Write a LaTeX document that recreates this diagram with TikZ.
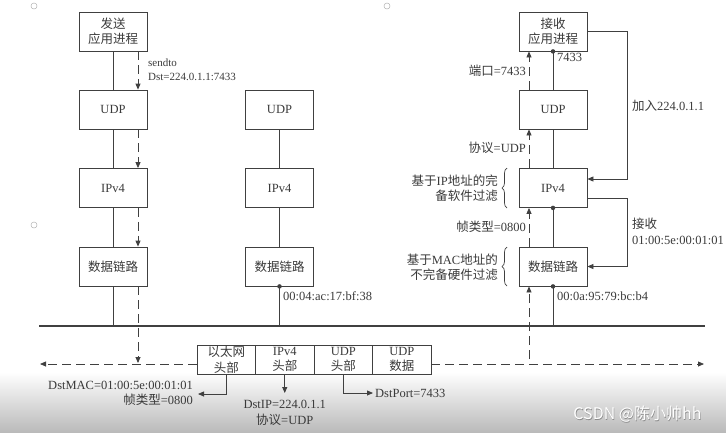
\documentclass[tikz,border=0pt]{standalone}
\usepackage{fontspec}
\setmainfont{Liberation Serif}
\newfontfamily\cjkfont{Noto Sans CJK SC}
\newfontfamily\wmfont{Noto Sans CJK SC}
\newcommand{\zhtxt}[1]{{\cjkfont #1}}
\usetikzlibrary{arrows.meta,decorations.pathreplacing,calc}
\definecolor{txt}{HTML}{3A3A3A}
\definecolor{ln}{HTML}{404040}
\begin{document}
\begin{tikzpicture}[x=1pt,y=-1pt,
  every node/.style={font=\fontsize{12.5}{15.5}\selectfont, text=txt},
  box/.style={draw=ln, line width=0.8pt, minimum width=68pt, minimum height=39pt, inner sep=0pt, align=center},
  cell/.style={draw=ln, line width=0.8pt, minimum width=58.5pt, minimum height=29pt, inner sep=0pt, align=center},
  link/.style={draw=ln, line width=0.8pt},
  flow/.style={draw=ln, line width=0.8pt, dash pattern=on 9pt off 5pt},
  tip/.style={-{Triangle[length=6pt,width=5pt]}},
  dot/.style={circle, fill=ln, inner sep=0pt, minimum size=4.5pt},
  lbl/.style={inner sep=1pt},
  mark circ/.style={draw=black!30, line width=0.5pt},
]
\useasboundingbox (0,0) rectangle (726,432);
\shade[top color=white, bottom color=black!27] (0,372) rectangle (726,432);

% page marks
\draw[mark circ] (34,6) circle (3);
\draw[mark circ] (34,225) circle (3);
\draw[mark circ] (387,6) circle (3);

% sender column
\node[box] (s)  at (113,31.5)  {\zhtxt{发送}\\\zhtxt{应用进程}};
\node[box] (su) at (113,109.5) {UDP};
\node[box] (si) at (113,188)   {IPv4};
\node[box] (sd) at (113,266.5) {\zhtxt{数据链路}};

% middle column
\node[box] (mu) at (279.5,109.5) {UDP};
\node[box] (mi) at (279.5,188)   {IPv4};
\node[box] (md) at (279.5,266.5) {\zhtxt{数据链路}};

% receiver column
\node[box] (r)  at (553,31.5)  {\zhtxt{接收}\\\zhtxt{应用进程}};
\node[box] (ru) at (553,109.5) {UDP};
\node[box] (ri) at (553,188)   {IPv4};
\node[box] (rd) at (553,266.5) {\zhtxt{数据链路}};

% bus
\coordinate (busL) at (39,326);
\coordinate (busR) at (705,326);
\draw[draw=ln, line width=1.8pt] (busL) -- (busR);

% solid stack links
\draw[link] (s) -- (su);
\draw[link] (su) -- (si);
\draw[link] (si) -- (sd);
\draw[link] (sd.south) -- (sd.south |- busL);
\draw[link] (mu) -- (mi);
\draw[link] (mi) -- (md);
\draw[link] (md.south) -- (md.south |- busL);
\draw[link] (r.south) -- (ru.north);
\draw[link] (ru.south) -- (ri.north);
\draw[link] (ri.south) -- (rd.north);
\draw[link] (rd.south) -- (rd.south |- busL);
\node[dot] (dm)  at (md.south) {};
\node[dot] (dr1) at (r.south) {};
\node[dot] (dr2) at (ri.south) {};
\node[dot] (dr3) at (rd.south) {};

% packet frame
\node[cell] (p1) at (226.25,359.5) {\zhtxt{以太网}\\\zhtxt{头部}};
\node[cell] (p2) at (284.75,359.5) {IPv4\\\zhtxt{头部}};
\node[cell] (p3) at (343.25,359.5) {UDP\\\zhtxt{头部}};
\node[cell] (p4) at (401.75,359.5) {UDP\\\zhtxt{数据}};

% sender dashed flow
\coordinate (lhit) at (138,363);
\draw[flow,tip] ([xshift=25pt]s.south) -- ([xshift=25pt]su.north);
\draw[flow,tip] ([xshift=25pt]su.south) -- ([xshift=25pt]si.north);
\draw[flow,tip] ([xshift=25pt]si.south) -- ([xshift=25pt]sd.north);
\draw[flow,tip] ([xshift=25pt]sd.south) -- (lhit);

% horizontal dashed line through frame
\coordinate (hl) at (40,364);
\coordinate (hr) at (704,364);
\draw[flow,tip] ([yshift=-4.5pt]p1.west) -- (hl);
\draw[flow,tip] ([yshift=-4.5pt]p4.east) -- (hr);

% receiver dashed flow
\coordinate (rstart) at (529,359);
\draw[flow,tip] (rstart) -- ([xshift=-24pt]rd.south);
\draw[flow,tip] ([xshift=-24pt]rd.north) -- ([xshift=-24pt]ri.south);
\draw[flow,tip] ([xshift=-24pt]ri.north) -- ([xshift=-24pt]ru.south);
\draw[flow,tip] ([xshift=-24pt]ru.north) -- ([xshift=-24pt]r.south);

% receiver control loops
\coordinate (j1) at (627,31.5);
\coordinate (j2) at (627,198);
\draw[link,tip] (r.east) -- (j1) |- ([yshift=9pt]ri.east);
\draw[link,tip] ([yshift=-10pt]ri.east) -- (j2) |- (rd.east);

% labels, sender side
\node[lbl, anchor=west, align=left, font=\fontsize{11}{14}\selectfont] (lsend) at (147,70) {sendto\\Dst=224.0.1.1:7433};
\node[lbl, anchor=west] (lmac1) at (282,296) {00:04:ac:17:bf:38};

% labels, receiver side
\node[lbl, anchor=west] (lport) at (556,57) {7433};
\node[lbl, anchor=west] (lmac2) at (556,296) {00:0a:95:79:bc:b4};
\node[lbl, anchor=east] (lp1) at (527,71)  {\zhtxt{端口}=7433};
\node[lbl, anchor=east] (lp2) at (527,148) {\zhtxt{协议}=UDP};
\node[lbl, anchor=east] (lp3) at (527,227) {\zhtxt{帧类型}=0800};
\node[lbl, anchor=west] (ljoin) at (631,106) {\zhtxt{加入}224.0.1.1};
\node[lbl, anchor=west, align=left] (lrecv) at (631,231.5) {\zhtxt{接收}\\01:00:5e:00:01:01};
\node[lbl, anchor=east, align=right] (lf1) at (499,188) {\zhtxt{基于}IP\zhtxt{地址的完}\\\zhtxt{备软件过滤}};
\node[lbl, anchor=east, align=right] (lf2) at (499,267) {\zhtxt{基于}MAC\zhtxt{地址的}\\\zhtxt{不完备硬件过滤}};
\draw[draw=ln, line width=0.7pt, decorate, decoration={brace, amplitude=5pt}] (507,208) -- (507,168);
\draw[draw=ln, line width=0.7pt, decorate, decoration={brace, amplitude=5pt}] (507,286) -- (507,247);

% frame annotations
\coordinate (a1) at (198,394);
\coordinate (a2) at (284.75,393);
\coordinate (a3) at (373,393);
\draw[link,tip] (p1.south) |- (a1);
\draw[link,tip] (p2.south) -- (a2);
\draw[link,tip] (p3.south) |- (a3);
\node[lbl, anchor=east, align=right] (tmac) at (194,393.5) {DstMAC=01:00:5e:00:01:01\\\zhtxt{帧类型}=0800};
\node[lbl, align=center] (tip2) at (284.75,413) {DstIP=224.0.1.1\\\zhtxt{协议}=UDP};
\node[lbl, anchor=west] (tport) at (374,393) {DstPort=7433};

% watermark
\node[anchor=east, font=\wmfont\fontsize{16}{18}\selectfont, text=black!45] (wm0) at (705.6,414.6) {CSDN @陈小帅hh};
\node[anchor=east, font=\wmfont\fontsize{16}{18}\selectfont, text=white] (wm) at (705,414) {CSDN @陈小帅hh};
\end{tikzpicture}
\end{document}
